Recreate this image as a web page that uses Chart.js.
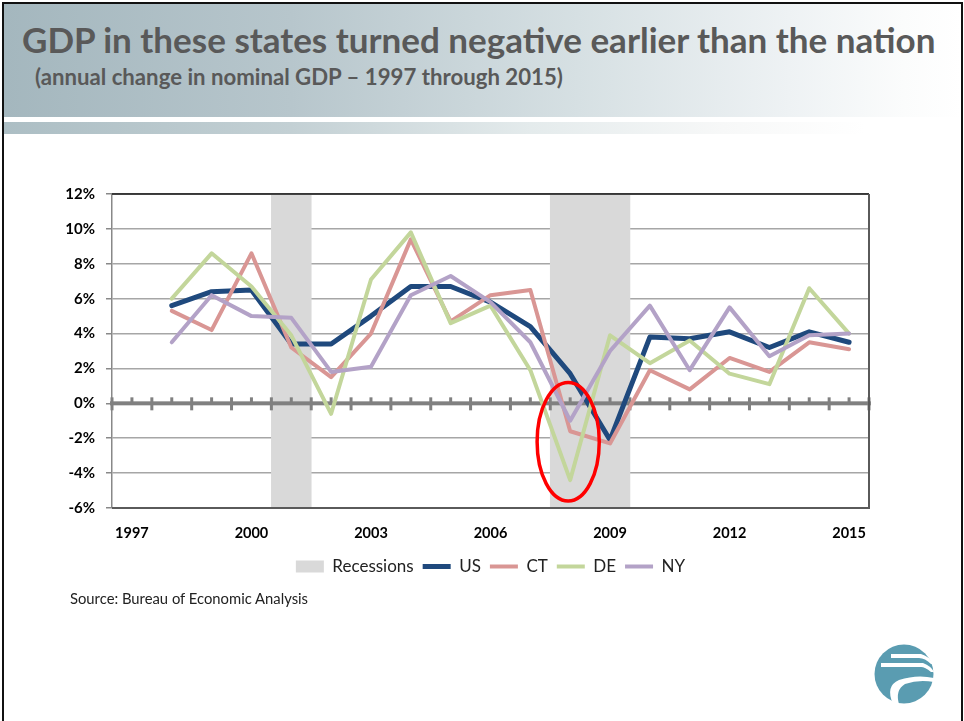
<!DOCTYPE html>
<html>
<head>
<meta charset="utf-8">
<script src="https://cdn.jsdelivr.net/npm/chart.js@4.4.0/dist/chart.umd.min.js"></script>
<style>
  html, body { margin: 0; padding: 0; background: #fff; }
  body { width: 964px; height: 721px; position: relative; overflow: hidden; font-family: Lato, sans-serif; }
  #frame { position: absolute; left: 2px; top: 2px; width: 961px; height: 740px; border: 2px solid #111; box-sizing: border-box; }
  #header { position: absolute; left: 4px; top: 4px; width: 957px; height: 113px;
    background: linear-gradient(to right, #a4b7be 0%, #b7c6cc 30%, #d6e0e3 60%, #eef2f4 82%, #fbfcfc 94%, #ffffff 100%); }
  #band { position: absolute; left: 4px; top: 122px; width: 957px; height: 12px;
    background: linear-gradient(to right, #acbec4 0%, #c3d0d4 30%, #e4ebec 55%, #f7f8f8 75%, #ffffff 90%); }
  #title { position: absolute; left: 22px; top: 18px; font-size: 35px; font-weight: bold; color: #595959; white-space: nowrap; }
  #subtitle { position: absolute; left: 35px; top: 63px; font-size: 22.2px; font-weight: bold; color: #595959; white-space: nowrap; }
  #source { position: absolute; left: 70px; top: 589px; font-size: 14.8px; color: #222; white-space: nowrap; }
  #chart { position: absolute; left: 20px; top: 168px; }
  #logo { position: absolute; left: 873px; top: 642px; }
</style>
</head>
<body>
<div id="frame"></div>
<div id="header"></div>
<div id="band"></div>
<div id="title">GDP in these states turned negative earlier than the nation</div>
<div id="subtitle">(annual change in nominal GDP – 1997 through 2015)</div>
<canvas id="chart" width="940" height="423"></canvas>
<div id="source">Source: Bureau of Economic Analysis</div>
<svg id="logo" width="62" height="64" viewBox="0 0 62 64">
  <circle cx="31" cy="32" r="29.5" fill="#5a9cb1"/>
  <path d="M18 12 L48 12 Q56 14 60 22 L58 22 Q52 16 46 16 L18 16 Z" fill="#fff"/>
  <path d="M8 21 L50 21 Q58 24 61 30 L58 30 Q52 25 48 25 L8 25 Z" fill="#fff"/>
  <path d="M20 62 Q12 44 26 38 Q44 32 61 36 L61 40 Q46 37 32 42 Q22 48 26 62 Z" fill="#fff"/>
</svg>

<script>
// data (annual % change in nominal GDP)
const years = ['1997', '1998', '1999', '2000', '2001', '2002', '2003', '2004', '2005', '2006',
               '2007', '2008', '2009', '2010', '2011', '2012', '2013', '2014', '2015'];
const tickYears = ['1997', '2000', '2003', '2006', '2009', '2012', '2015'];
const yMin = -6;
const yMax = 12;
const yStep = 2;
const recessionYears = ['2001', '2008', '2009'];

const usValues = [null, 5.6, 6.4, 6.5, 3.4, 3.4, 5.0, 6.7, 6.7, 5.8, 4.4, 1.7, -2.1, 3.8, 3.7, 4.1, 3.2, 4.1, 3.5];
const ctValues = [null, 5.3, 4.2, 8.6, 3.2, 1.5, 4.0, 9.4, 4.7, 6.2, 6.5, -1.6, -2.3, 1.9, 0.8, 2.6, 1.8, 3.5, 3.1];
const deValues = [null, 6.0, 8.6, 6.7, 3.9, -0.6, 7.1, 9.8, 4.6, 5.6, 1.9, -4.4, 3.9, 2.3, 3.6, 1.7, 1.1, 6.6, 4.0];
const nyValues = [null, 3.5, 6.2, 5.0, 4.9, 1.8, 2.1, 6.2, 7.3, 5.8, 3.5, -1.0, 3.0, 5.6, 1.9, 5.5, 2.7, 3.9, 4.0];

// red ellipse annotation around 2008
const circleYear = '2008';
const circleCenter = -2.2;
const circleHalfHeight = 3.4;

Chart.defaults.font.family = 'Lato';
Chart.defaults.color = '#000';

let recessionData = years.map(function (y) {
    return recessionYears.includes(y) ? [yMin, yMax] : null;
});

// zero line with tick marks, drawn over the recession bars but under the lines
const zeroLinePlugin = {
    id: 'zeroLine',
    afterDatasetDraw(chart, args) {
        if (args.index !== 0) return;
        const ctx = chart.ctx;
        const x = chart.scales.x;
        const y = chart.scales.y;
        const area = chart.chartArea;
        const y0 = y.getPixelForValue(0);
        const half = (x.getPixelForValue(1) - x.getPixelForValue(0)) / 2;
        ctx.save();
        ctx.fillStyle = '#808080';
        ctx.fillRect(area.left - 2, y0 - 2, area.right - area.left + 4, 4);
        for (let i = 0; i < years.length; i++) {
            const c = x.getPixelForValue(i);
            ctx.fillRect(c - half - 1.5, y0 - 6, 3, 13);
            ctx.fillRect(c - 1.5, y0 - 6, 3, 5);
        }
        ctx.fillRect(x.getPixelForValue(years.length - 1) + half - 1.5, y0 - 6, 3, 13);
        ctx.restore();
    }
};

// plot frame and the red ellipse
const framePlugin = {
    id: 'frame',
    afterDatasetsDraw(chart) {
        const ctx = chart.ctx;
        const x = chart.scales.x;
        const y = chart.scales.y;
        const a = chart.chartArea;
        ctx.save();
        ctx.strokeStyle = '#111';
        ctx.lineWidth = 1.5;
        ctx.beginPath();
        ctx.moveTo(a.left, a.top);
        ctx.lineTo(a.right, a.top);
        ctx.stroke();
        ctx.strokeStyle = '#5a5a5a';
        ctx.lineWidth = 2;
        ctx.beginPath();
        ctx.moveTo(a.left, a.bottom);
        ctx.lineTo(a.right, a.bottom);
        ctx.lineTo(a.right, a.top);
        ctx.stroke();

        const cx = x.getPixelForValue(years.indexOf(circleYear)) - 2;
        const cy = y.getPixelForValue(circleCenter);
        const rx = (x.getPixelForValue(1) - x.getPixelForValue(0)) * 0.78;
        const ry = y.getPixelForValue(circleCenter) - y.getPixelForValue(circleCenter + circleHalfHeight);
        ctx.strokeStyle = '#ff0000';
        ctx.lineWidth = 3.5;
        ctx.beginPath();
        ctx.ellipse(cx, cy, rx, ry, 0, 0, Math.PI * 2);
        ctx.stroke();
        ctx.restore();
    }
};

function lineSet(label, values, color, width, order) {
    return {
        type: 'line',
        label: label,
        data: values,
        borderColor: color,
        backgroundColor: color,
        borderWidth: width,
        borderCapStyle: 'round',
        borderJoinStyle: 'round',
        pointRadius: 0,
        tension: 0,
        order: order
    };
}

let data = {
    labels: years,
    datasets: [
        {
            type: 'bar',
            label: 'Recessions',
            data: recessionData,
            backgroundColor: '#d9d9d9',
            borderWidth: 0,
            barPercentage: 1,
            categoryPercentage: 1,
            order: 10
        },
        lineSet('US', usValues, '#1f497d', 5, 4),
        lineSet('CT', ctValues, '#d99694', 4, 3),
        lineSet('DE', deValues, '#c3d69b', 4, 2),
        lineSet('NY', nyValues, '#b3a2c7', 4, 1)
    ]
};

let config = {
    data: data,
    options: {
        responsive: false,
        animation: false,
        layout: { padding: { top: 26, right: 91, left: 0, bottom: 6 } },
        plugins: {
            tooltip: { enabled: false },
            legend: {
                position: 'bottom',
                fullSize: false,
                labels: {
                    usePointStyle: true,
                    pointStyleWidth: 28,
                    boxHeight: 12,
                    padding: 9,
                    color: '#222',
                    font: { size: 17 },
                    sort: function (a, b) { return a.datasetIndex - b.datasetIndex; },
                    generateLabels: function (chart) {
                        const items = Chart.defaults.plugins.legend.labels.generateLabels(chart);
                        items.forEach(function (item) {
                            item.pointStyle = item.datasetIndex === 0 ? 'rect' : 'line';
                        });
                        return items;
                    }
                }
            }
        },
        scales: {
            x: {
                type: 'category',
                offset: true,
                grid: { display: false, drawTicks: false },
                border: { display: false },
                afterFit: function (scale) { scale.height = 41; },
                ticks: {
                    autoSkip: false,
                    maxRotation: 0,
                    padding: 17,
                    font: { size: 14.5, weight: 'bold' },
                    color: '#000',
                    callback: function (v, i) {
                        return tickYears.includes(years[i]) ? years[i] : '';
                    }
                }
            },
            y: {
                min: yMin,
                max: yMax,
                afterFit: function (scale) { scale.width = 92; },
                grid: {
                    color: function (ctx) {
                        return ctx.tick && ctx.tick.value === 0 ? 'rgba(0,0,0,0)' : '#a6a6a6';
                    },
                    lineWidth: 1.5,
                    tickLength: 6,
                    tickColor: '#888'
                },
                border: { color: '#888', width: 1.5 },
                ticks: {
                    stepSize: yStep,
                    padding: 11,
                    font: { size: 15, weight: 'bold' },
                    color: '#000',
                    callback: function (v) { return v + '%'; }
                }
            }
        }
    },
    plugins: [zeroLinePlugin, framePlugin]
};

var myChart = new Chart(document.getElementById('chart'), config);
</script>
</body>
</html>
